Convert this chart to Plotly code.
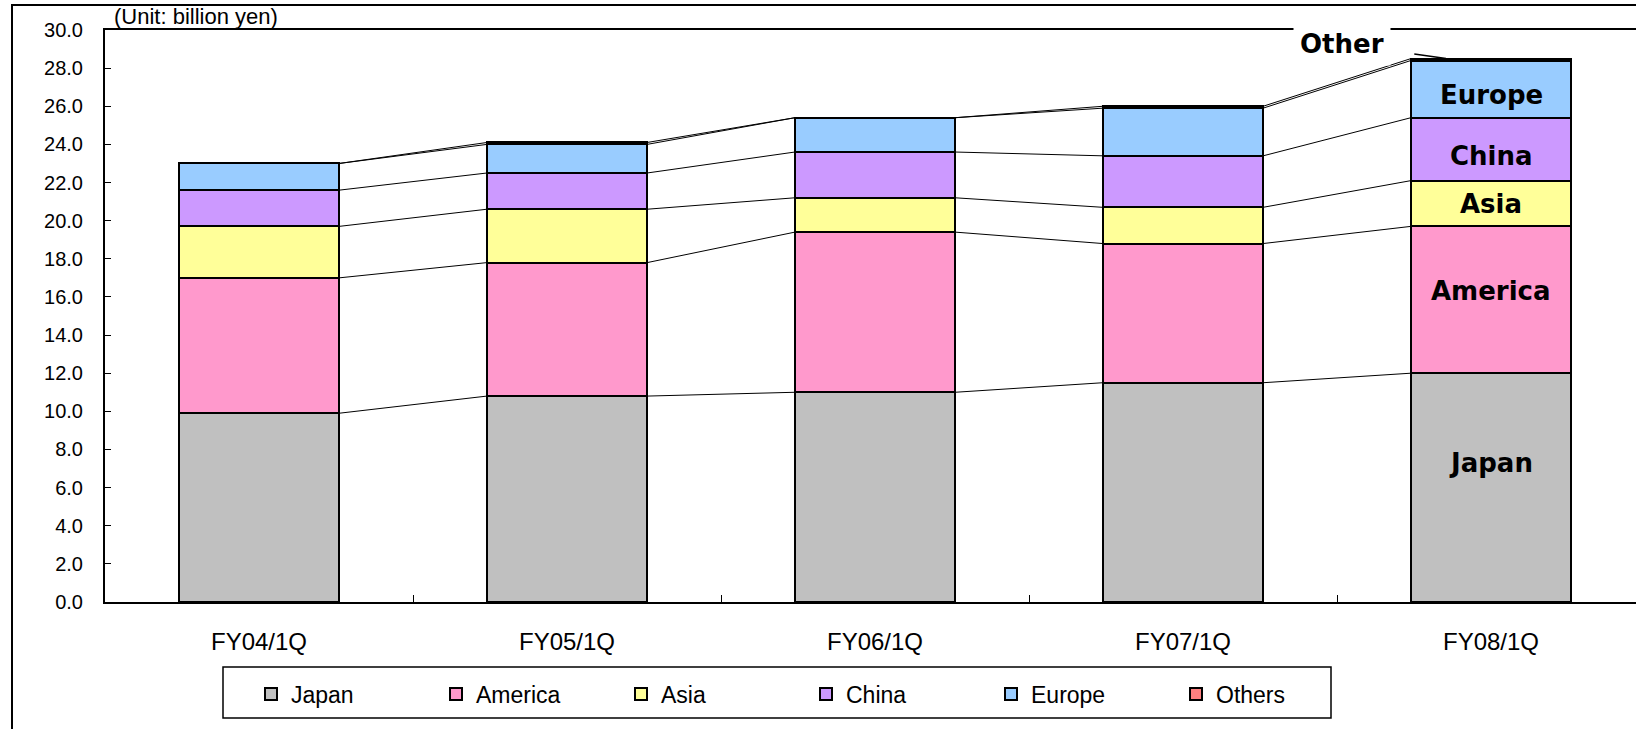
import plotly.graph_objects as go

categories = ["FY04/1Q", "FY05/1Q", "FY06/1Q", "FY07/1Q", "FY08/1Q"]
japan   = [9.9, 10.8, 11.0, 11.5, 12.0]
america = [7.1, 7.0, 8.4, 7.3, 7.7]
asia    = [2.7, 2.8, 1.8, 1.9, 2.4]
china   = [1.9, 1.9, 2.4, 2.7, 3.3]
europe  = [1.4, 1.5, 1.8, 2.5, 3.0]
others  = [0.0, 0.1, 0.0, 0.1, 0.1]

series_names = ["Japan", "America", "Asia", "China", "Europe", "Others"]
series_vals = [japan, america, asia, china, europe, others]
colors = ["#C0C0C0", "#FF99CC", "#FFFF99", "#CC99FF", "#99CCFF", "#FF8080"]
y_ticks = [0, 2, 4, 6, 8, 10, 12, 14, 16, 18, 20, 22, 24, 26, 28, 30]

BAR_W = 0.52
W, H = 1636, 729
ML, MR, MT, MB = 105, 0, 30, 127
CAT_PX = 308.0
plot_w = W - ML - MR
plot_h = H - MT - MB
x_hi = -0.5 + plot_w / CAT_PX


def px_x(p):
    return (p - ML) / plot_w


def px_y(p):
    return (H - MB - p) / plot_h


xs = list(range(len(categories)))
fig = go.Figure()

for name, vals, col in zip(series_names, series_vals, colors):
    fig.add_trace(go.Bar(
        x=xs, y=vals, name=name, width=BAR_W,
        marker=dict(color=col, line=dict(color="black", width=2)),
    ))

# series lines connecting cumulative tops
cum = [0.0] * len(categories)
for vals in series_vals:
    cum = [c + v for c, v in zip(cum, vals)]
    lx, ly = [], []
    for i in range(len(categories) - 1):
        lx += [i + BAR_W / 2, i + 1 - BAR_W / 2, None]
        ly += [cum[i], cum[i + 1], None]
    fig.add_trace(go.Scatter(x=lx, y=ly, mode="lines", showlegend=False,
                             hoverinfo="skip",
                             line=dict(color="black", width=1)))

# labels inside last bar
last = len(categories) - 1
label_font = dict(family="DejaVu Sans", size=26, color="black", weight="bold")
shifts = {"Japan": 25, "America": 9, "Asia": 0, "China": -7, "Europe": -6}
base = 0.0
for name, vals in zip(series_names, series_vals):
    top = base + vals[last]
    if name in shifts:
        fig.add_annotation(x=last, y=(base + top) / 2, text=name, showarrow=False,
                           xref="x", yref="y", font=label_font,
                           yshift=shifts[name])
    base = top

# "Other" callout
fig.add_annotation(x=last - 0.146, y=base, xref="x", yref="y", text="Other",
                   showarrow=True, arrowhead=0, arrowwidth=1.5, arrowcolor="black",
                   ax=-104, ay=-15, startstandoff=24,
                   bgcolor="white", borderpad=6, font=label_font)

fig.add_annotation(x=px_x(113), y=1, xref="paper", yref="paper",
                   xanchor="left", yanchor="bottom", showarrow=False,
                   text="(Unit: billion yen)", borderpad=0, yshift=0,
                   font=dict(family="Liberation Sans", size=22, color="black"))

# outer chart frame
fig.add_shape(type="rect", xref="paper", yref="paper",
              x0=px_x(12), x1=1.02, y0=px_y(H + 20), y1=px_y(5),
              line=dict(color="black", width=2), fillcolor="rgba(0,0,0,0)")
# legend frame
fig.add_shape(type="rect", xref="paper", yref="paper",
              x0=px_x(223), x1=px_x(1331), y0=px_y(718), y1=px_y(667),
              line=dict(color="black", width=1.5), fillcolor="white")

fig.update_layout(
    width=W, height=H,
    margin=dict(l=ML, r=MR, t=MT, b=MB),
    barmode="stack",
    bargap=0,
    paper_bgcolor="white", plot_bgcolor="white",
    showlegend=True,
    legend=dict(orientation="h", x=px_x(251), xanchor="left",
                y=px_y(694), yanchor="middle", traceorder="normal",
                borderwidth=0, bgcolor="rgba(0,0,0,0)",
                entrywidth=140,
                font=dict(family="Liberation Sans", size=23, color="black")),
    xaxis=dict(range=[-0.5, x_hi], tickmode="array", tickvals=xs,
               ticktext=categories, ticks="", showgrid=False, zeroline=False,
               showline=True, linecolor="black", linewidth=2, mirror=True,
               ticklabelstandoff=17,
               minor=dict(tickmode="array",
                          tickvals=[i + 0.5 for i in xs[:-1]],
                          ticks="inside", ticklen=7, tickcolor="black",
                          tickwidth=1, showgrid=False),
               tickfont=dict(family="Liberation Sans", size=24, color="black")),
    yaxis=dict(range=[0, 30], tickmode="array", tickvals=y_ticks,
               tickformat=".1f", ticks="inside", ticklen=6, tickcolor="black",
               tickwidth=1, showgrid=False, zeroline=False,
               showline=True, linecolor="black", linewidth=2, mirror=False,
               ticklabelstandoff=16,
               tickfont=dict(family="Liberation Sans", size=20, color="black")),
)

fig.write_html("out.html")
